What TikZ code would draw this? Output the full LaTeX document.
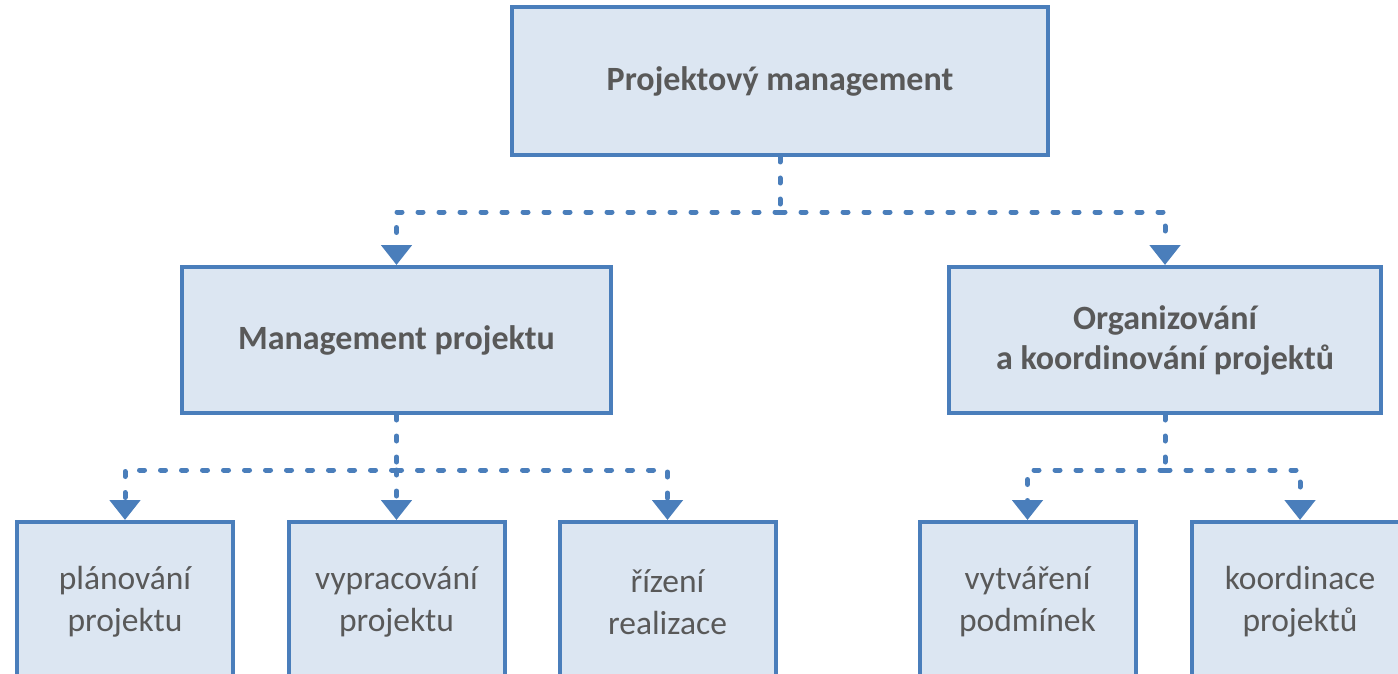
\documentclass[tikz,border=0pt]{standalone}
\usepackage{fontspec}
\setmainfont{Carlito}
\usetikzlibrary{arrows.meta}
\definecolor{bl}{HTML}{4A7EBB}
\definecolor{fillc}{HTML}{DCE6F2}
\definecolor{txt}{HTML}{595959}
\tikzset{
  box/.style={draw=bl, line width=4pt, fill=fillc, text=txt, align=center, inner sep=0pt},
  bigbox/.style={box, font=\fontsize{34}{40}\selectfont\bfseries},
  smallbox/.style={box, font=\fontsize{33.5}{42}\selectfont, minimum width=216pt, minimum height=160pt},
  conn/.style={draw=bl, line width=5pt, dash pattern=on 5pt off 16pt, line cap=round},
  arr/.style={conn, -{Triangle[length=20pt,width=30pt]}}
}
\begin{document}
\begin{tikzpicture}[x=1pt,y=-1pt]
\useasboundingbox (0,0) rectangle (1398,674);
\clip (0,0) rectangle (1398,674);
\node[bigbox, minimum width=536pt, minimum height=148pt] (top) at (780,81) {Projektový management};
\node[bigbox, minimum width=429pt, minimum height=146pt] (ml) at (396.5,340) {Management projektu};
\node[bigbox, minimum width=432pt, minimum height=146pt] (mr) at (1165,340) {Organizování\\a koordinování projektů};
\node[smallbox] (b1) at (125,602) {plánování\\projektu};
\node[smallbox] (b2) at (396.5,602) {vypracování\\projektu};
\node[smallbox] (b3) at (667.5,602) {řízení\\realizace};
\node[smallbox] (b4) at (1027.5,602) {vytváření\\podmínek};
\node[smallbox] (b5) at (1300,602) {koordinace\\projektů};
\coordinate (j1) at (780,212);
\coordinate (j2) at (396.5,470);
\coordinate (j3) at (1165,470);
\draw[conn] (top.south) -- (j1);
\draw[arr] (j1) -| (ml.north);
\draw[arr] (j1) -| (mr.north);
\draw[conn] (ml.south) -- (j2);
\draw[arr] (j2) -| (b1.north);
\draw[arr] (j2) -- (b2.north);
\draw[arr] (j2) -| (b3.north);
\draw[conn] (mr.south) -- (j3);
\draw[arr] (j3) -| (b4.north);
\draw[arr] (j3) -| (b5.north);
\end{tikzpicture}
\end{document}
